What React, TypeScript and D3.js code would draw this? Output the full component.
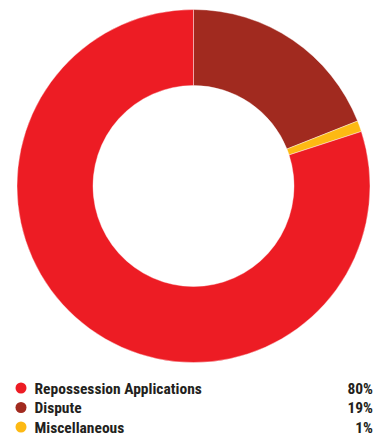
import React from "react";
import * as d3 from "d3";

const categories = ["Dispute", "Miscellaneous", "Repossession Applications"];
const values = [19, 1, 80];
const colors = ["#A12A1F", "#FDB913", "#ED1C24"];

const legendOrder = ["Repossession Applications", "Dispute", "Miscellaneous"];
const legendLabels = ["80%", "19%", "1%"];

export default function App() {
  const width = 386;
  const height = 437;
  const cx = 193.5;
  const cy = 186;
  const outerR = 176.5;
  const innerR = 100.5;

  const pie = d3.pie<number>().sort(null).value((d) => d);
  const arcs = pie(values);
  const arc = d3.arc<d3.PieArcDatum<number>>().innerRadius(innerR).outerRadius(outerR);

  const colorScale = d3.scaleOrdinal<string, string>().domain(categories).range(colors);
  const rowY = d3.scalePoint<string>().domain(legendOrder).range([388, 427]);
  const font = "'Liberation Sans Narrow', 'Roboto Condensed', 'Liberation Sans', sans-serif";

  return (
    <svg
      width={width}
      height={height}
      style={{ position: "absolute", left: 0, top: 0 }}
    >
      <rect width={width} height={height} fill="#fff" />
      <g transform={`translate(${cx},${cy})`}>
        {arcs.map((a, i) => (
          <path key={i} d={arc(a) || ""} fill={colors[i]} stroke="#fff" strokeWidth={0.4} />
        ))}
      </g>
      {legendOrder.map((name, i) => {
        const y = rowY(name)!;
        return (
          <g key={name}>
            <circle cx={21} cy={y} r={5.5} fill={colorScale(name)} />
            <text
              x={34.5}
              y={y + 5.5}
              fontFamily={font}
              fontWeight="bold"
              fontSize={15.5}
              fill="#231F20"
            >
              {name}
            </text>
            <text
              x={373}
              y={y + 5.5}
              textAnchor="end"
              fontFamily={font}
              fontWeight="bold"
              fontSize={15.5}
              fill="#231F20"
            >
              {legendLabels[i]}
            </text>
          </g>
        );
      })}
    </svg>
  );
}
